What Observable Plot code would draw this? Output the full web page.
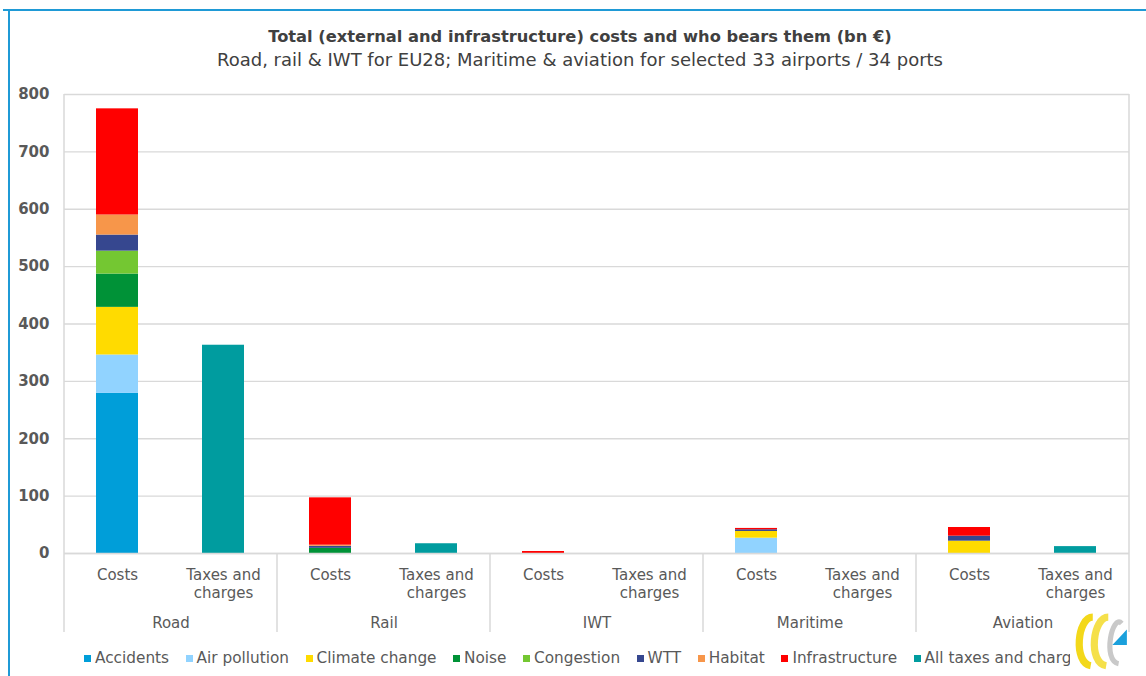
<!DOCTYPE html>
<html>
<head>
<meta charset="utf-8">
<script src="https://cdn.jsdelivr.net/npm/d3@7"></script>
<script src="https://cdn.jsdelivr.net/npm/@observablehq/plot@0.6"></script>
<style>
  html, body { margin: 0; padding: 0; background: #fff; }
  #page {
    position: relative; width: 1146px; height: 676px; overflow: hidden;
    font-family: "DejaVu Sans", sans-serif; color: #595959;
  }
  #topline { position: absolute; left: 3px; right: 0; top: 9px; height: 1.5px; background: #1f9ad6; }
  #leftline { position: absolute; left: 8px; top: 9px; bottom: 0; width: 1.5px; background: #1f9ad6; }
  #title {
    position: absolute; left: 0; width: 1160px; top: 27px; text-align: center;
    font-size: 16.3px; font-weight: bold; color: #404040; white-space: nowrap;
  }
  #subtitle {
    position: absolute; left: 0; width: 1160px; top: 49px; text-align: center;
    font-size: 18px; color: #404040; white-space: nowrap;
  }
  #chart { position: absolute; left: 0; top: 80px; }
  #legend {
    position: absolute; left: 84px; top: 647px; width: 986px; height: 22px; overflow: hidden;
    display: flex; white-space: nowrap; font-size: 15.3px; color: #595959; align-items: center;
  }
  .item { display: flex; align-items: center; margin-right: 16.5px; }
  .sw { width: 7px; height: 7px; margin-right: 4px; flex: none; }
  #logo { position: absolute; left: 1070px; top: 611px; }
</style>
</head>
<body>
<div id="page">
  <div id="topline"></div>
  <div id="leftline"></div>
  <div id="title">Total (external and infrastructure) costs and who bears them (bn €)</div>
  <div id="subtitle">Road, rail &amp; IWT for EU28; Maritime &amp; aviation for selected 33 airports / 34 ports</div>
  <div id="chart"></div>
  <div id="legend"></div>
  <svg id="logo" width="60" height="62" viewBox="0 0 58 60">
    <path d="M22,6 C7,6 3,50 20,53" fill="none" stroke="#f3d81a" stroke-width="7"/>
    <path d="M37,6 C22,6 17,50 35,53" fill="none" stroke="#f5e04a" stroke-width="7"/>
    <path d="M50,12 C41,2 31,48 47,51" fill="none" stroke="#c9c9c9" stroke-width="5"/>
    <polygon points="41,33 55,18 55,33" fill="#1aa0dc"/>
  </svg>
</div>
<script>
// Transport modes and the two bars drawn for each
const modes = ["Road", "Rail", "IWT", "Maritime", "Aviation"];
const kinds = ["Costs", "Taxes and charges"];

// Cost components, stacked bottom to top (bn €)
const components = ["Accidents", "Air pollution", "Climate change", "Noise", "Congestion", "WTT", "Habitat", "Infrastructure"];
const roadCosts     = [279, 67, 83, 58, 40, 28, 35, 185];
const railCosts     = [0, 0, 0, 9, 0, 3.5, 2, 82.5];
const iwtCosts      = [0, 0, 0, 0, 0, 0, 0, 3.5];
const maritimeCosts = [0, 26.7, 11.7, 0, 0, 3, 0, 2.3];
const aviationCosts = [0, 0, 21.5, 0, 0, 8.7, 0, 15.1];

// Taxes and charges paid by each mode (bn €)
const taxesLabel = "All taxes and charges";
const taxes = [363, 17, 0, 0, 12];

const seriesNames = [...components, taxesLabel];
const seriesColors = ["#009ed9", "#91d3ff", "#ffdb00", "#009237", "#74c732", "#36478f", "#f7964a", "#ff0000", "#009c9f"];
const yTicks = [0, 100, 200, 300, 400, 500, 600, 700, 800];

const costsByMode = [roadCosts, railCosts, iwtCosts, maritimeCosts, aviationCosts];
const rows = [];
costsByMode.forEach((vals, i) => vals.forEach((v, j) => {
  rows.push({mode: modes[i], kind: "Costs", component: components[j], value: v});
}));
taxes.forEach((v, i) => rows.push({mode: modes[i], kind: "Taxes and charges", component: taxesLabel, value: v}));

const chart = Plot.plot({
  width: 1146,
  height: 560,
  marginTop: 14,
  marginLeft: 63,
  marginRight: 16,
  marginBottom: 87,
  style: {fontFamily: "DejaVu Sans, sans-serif", fontSize: "15px", color: "#595959", background: "transparent", overflow: "visible"},
  fx: {domain: modes, padding: 0, label: null},
  x: {domain: kinds, paddingInner: 0.6, paddingOuter: 0.3, label: null},
  y: {domain: [0, 800], label: null},
  color: {domain: seriesNames, range: seriesColors},
  marks: [
    Plot.gridY(yTicks, {stroke: "#d9d9d9", strokeOpacity: 1, strokeWidth: 1.3}),
    Plot.axisY(yTicks, {tickSize: 0, tickPadding: 15, label: null, fontWeight: "bold", fill: "#595959"}),
    Plot.barY(rows, {fx: "mode", x: "kind", y: "value", fill: "component"}),
    Plot.ruleY([0], {stroke: "#d9d9d9", strokeWidth: 1.6}),
    Plot.axisX({tickSize: 0, tickPadding: 14, label: null, lineHeight: 1.2, fill: "#595959",
      tickFormat: d => d === "Taxes and charges" ? "Taxes and\ncharges" : d}),
    Plot.axisFx({anchor: "bottom", tickSize: 0, tickPadding: 64, label: null, fill: "#595959"})
  ]
});
document.getElementById("chart").appendChild(chart);

// Category separators below the axis, plus the left and right edge lines
const fx = chart.scale("fx");
const y = chart.scale("y");
const svg = d3.select(chart);
const bottom = 552;
const edges = modes.map(m => fx.apply(m));
const rightEdge = fx.apply(modes[modes.length - 1]) + fx.bandwidth;
const g = svg.append("g").attr("stroke", "#d9d9d9").attr("stroke-width", 1.5);
edges.forEach((x, i) => {
  g.append("line").attr("x1", x).attr("x2", x)
    .attr("y1", i === 0 ? y.apply(800) : y.apply(0)).attr("y2", bottom);
});
g.append("line").attr("x1", rightEdge).attr("x2", rightEdge).attr("y1", y.apply(800)).attr("y2", bottom);

// Legend
const legend = d3.select("#legend");
seriesNames.forEach((name, i) => {
  const item = legend.append("div").attr("class", "item");
  item.append("div").attr("class", "sw").style("background", seriesColors[i]);
  item.append("span").text(name);
});
</script>
</body>
</html>
